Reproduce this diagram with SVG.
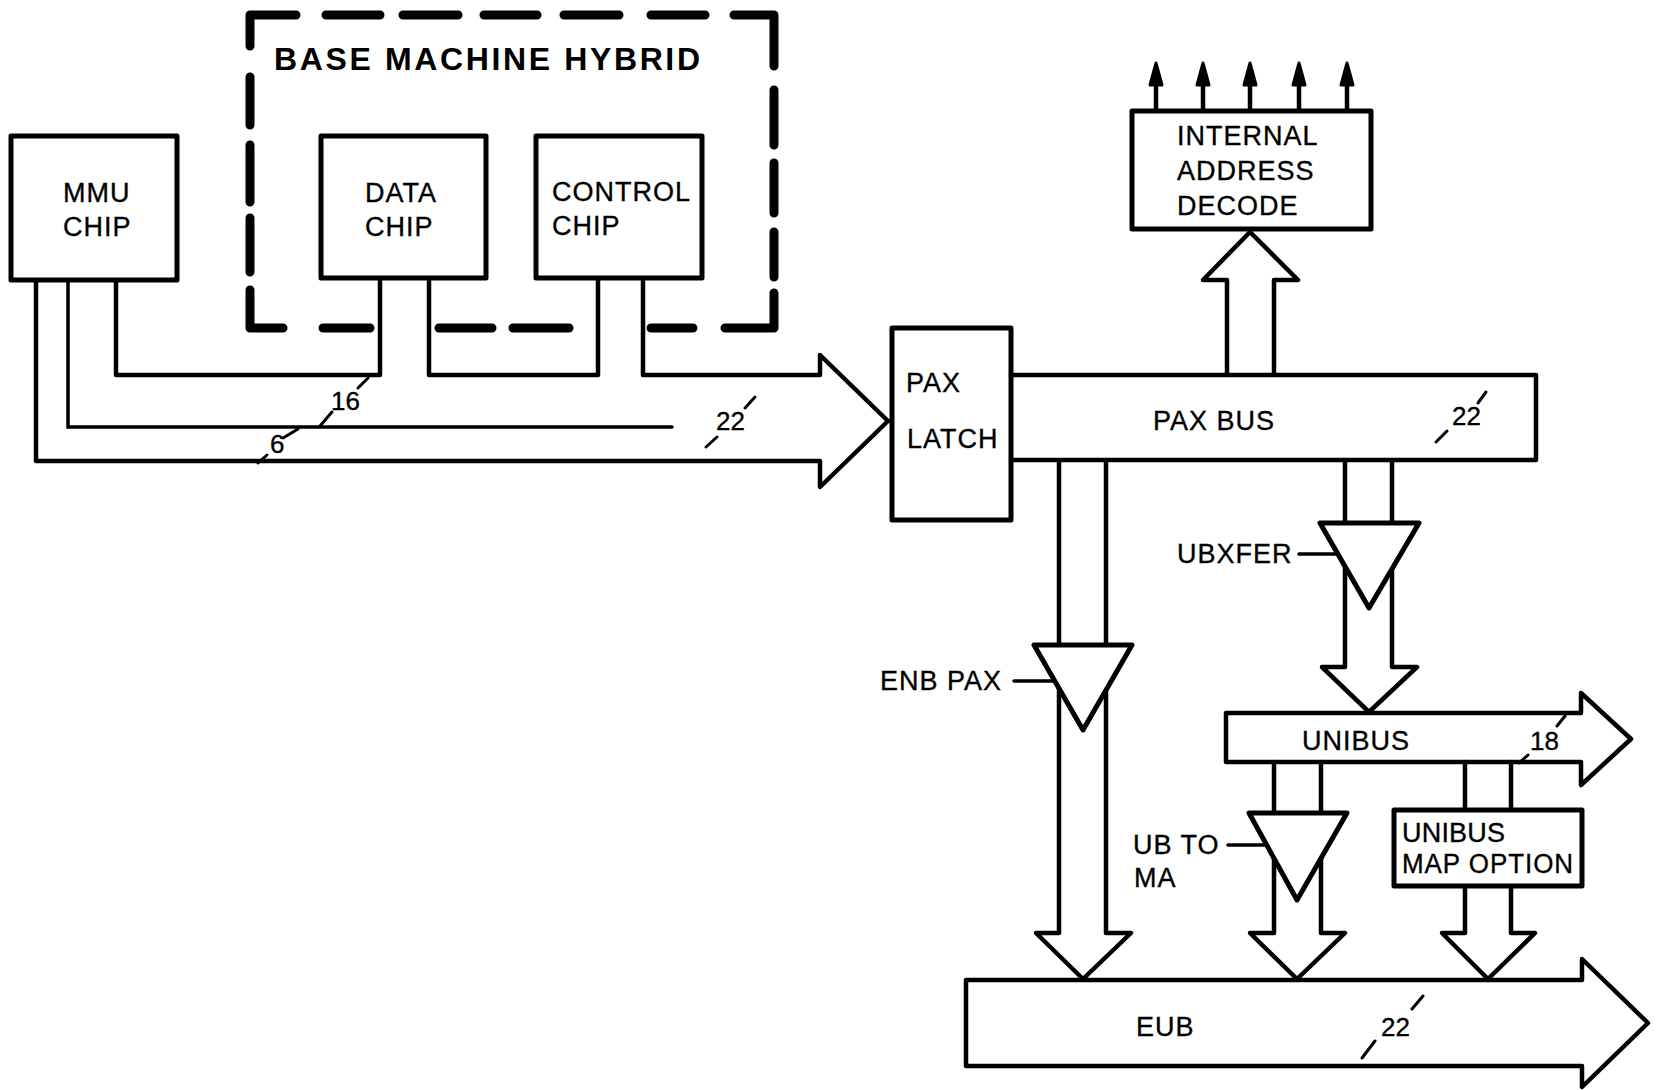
<svg xmlns="http://www.w3.org/2000/svg" width="1659" height="1090" viewBox="0 0 1659 1090">
<style>
.box{fill:#fff;stroke:#000;stroke-width:5;stroke-linejoin:round}
.ln{fill:none;stroke:#000;stroke-width:4.5;stroke-linejoin:round;stroke-linecap:round}
.thin{fill:none;stroke:#000;stroke-width:3.5;stroke-linecap:round}
.sl{fill:none;stroke:#000;stroke-width:3;stroke-linecap:round}
.buf{fill:#fff;stroke:#000;stroke-width:5;stroke-linejoin:round}
.dash{fill:none;stroke:#000;stroke-width:9;stroke-linecap:round;stroke-linejoin:round}
.t{font-family:"Liberation Sans",Arial,sans-serif;font-size:27px;letter-spacing:1px;fill:#000;stroke:#000;stroke-width:0.35}
.n{font-family:"Liberation Sans",Arial,sans-serif;font-size:26px;fill:#000;stroke:#000;stroke-width:0.35}
.title{font-family:"Liberation Sans",Arial,sans-serif;font-size:32px;font-weight:bold;fill:#000}
.tip{fill:#000;stroke:#000;stroke-width:3;stroke-linejoin:round}
</style>
<rect width="1659" height="1090" fill="#fff"/>

<g id="hybrid">
  <path class="dash" d="M250,46 V15 H296"/>
  <path class="dash" d="M326,15 H380 M403,15 H458 M484,15 H537 M564,15 H619 M651,15 H705"/>
  <path class="dash" d="M734,15 H774 V66"/>
  <path class="dash" d="M250,77 V125 M250,145 V202 M250,218 V272"/>
  <path class="dash" d="M250,290 V328 H283"/>
  <path class="dash" d="M774,90 V145 M774,163 V213 M774,232 V277"/>
  <path class="dash" d="M774,293 V328 H725"/>
  <path class="dash" d="M323,328 H370 M439,328 H492 M513,328 H569 M651,328 H693"/>
  <text class="title" x="274" y="70" textLength="426" lengthAdjust="spacing">BASE MACHINE HYBRID</text>
</g>

<g id="connectors">
  <path class="ln" d="M116,280 V375 H380 V278"/>
  <path class="ln" d="M429,278 V375 H598 V278"/>
  <path class="ln" d="M643,278 V375 H820 V355 L888,421 L820,487 V461 H36 V280"/>
  <path class="thin" d="M68,280 V427 H672"/>
  <!-- bus width marks -->
  <path class="sl" d="M368,378 L358,388 M332,412 L320,426 M298,429 L283,438 M267,455 L258,463"/>
  <text class="n" x="331" y="410">16</text>
  <text class="n" x="270" y="453">6</text>
  <path class="sl" d="M755,397 L745,408 M717,437 L706,447"/>
  <text class="n" x="716" y="430">22</text>

  <!-- PAX BUS up to decode -->
  <path class="ln" d="M1227,375 V280 H1203 L1250,232 L1298,280 H1274 V375"/>
  <!-- decode outputs -->
  <path class="ln" d="M1156,111 V80 M1203,111 V80 M1250,111 V80 M1299,111 V80 M1347,111 V80"/>
  <path class="tip" d="M1156,63 L1150,85 L1162,85 Z M1203,63 L1197,85 L1209,85 Z M1250,63 L1244,85 L1256,85 Z M1299,63 L1293,85 L1305,85 Z M1347,63 L1341,85 L1353,85 Z"/>

  <!-- ENB PAX path -->
  <path class="ln" d="M1059,461 V933 H1036 L1083,979 L1131,933 H1106 V461"/>
  <!-- UBXFER path -->
  <path class="ln" d="M1345,461 V667 H1322 L1369,712 L1417,667 H1392 V461"/>
  <!-- UB TO MA path -->
  <path class="ln" d="M1274,762 V933 H1250 L1297,979 L1345,933 H1321 V762"/>
  <!-- MAP OPTION paths -->
  <path class="ln" d="M1465,762 V810 M1511,762 V810"/>
  <path class="ln" d="M1465,886 V933 H1442 L1488,979 L1535,933 H1511 V886"/>

  <!-- label leaders -->
  <path class="thin" d="M1014,681 H1055"/>
  <path class="thin" d="M1299,554 H1338"/>
  <path class="thin" d="M1228,845 H1266"/>
</g>

<g id="mmu">
  <rect class="box" x="11" y="136" width="166" height="144"/>
  <text class="t" x="63" y="202" letter-spacing="0">MMU</text>
  <text class="t" x="63" y="236" letter-spacing="0">CHIP</text>
</g>
<g id="data">
  <rect class="box" x="321" y="136" width="165" height="142"/>
  <text class="t" x="365" y="202" letter-spacing="2.5">DATA</text>
  <text class="t" x="365" y="236" letter-spacing="0">CHIP</text>
</g>
<g id="control">
  <rect class="box" x="536" y="136" width="166" height="142"/>
  <text class="t" x="552" y="201">CONTROL</text>
  <text class="t" x="552" y="235" letter-spacing="0">CHIP</text>
</g>

<g id="paxlatch">
  <rect class="box" x="892" y="328" width="119" height="192"/>
  <text class="t" x="906" y="392" letter-spacing="0">PAX</text>
  <text class="t" x="907" y="448">LATCH</text>
</g>

<g id="paxbus">
  <path class="ln" d="M1011,375 H1536 V460 H1011"/>
  <text class="t" x="1153" y="430">PAX BUS</text>
  <text class="n" x="1452" y="425">22</text>
  <path class="sl" d="M1486,392 L1478,403 M1447,431 L1436,442"/>
</g>

<g id="decode">
  <rect class="box" x="1132" y="111" width="239" height="118"/>
  <text class="t" x="1177" y="145" letter-spacing="1.6">INTERNAL</text>
  <text class="t" x="1177" y="180" letter-spacing="0">ADDRESS</text>
  <text class="t" x="1177" y="215" letter-spacing="0">DECODE</text>
</g>

<g id="enbpax">
  <path class="buf" d="M1034,645 H1132 L1083,730 Z"/>
  <text class="t" x="880" y="690" letter-spacing="1.3">ENB PAX</text>
</g>

<g id="ubxfer">
  <path class="buf" d="M1320,523 H1419 L1369,608 Z"/>
  <text class="t" x="1177" y="563">UBXFER</text>
</g>

<g id="unibus">
  <path class="ln" d="M1226,713 H1581 V693 L1631,739 L1581,785 V762 H1226 Z"/>
  <text class="t" x="1302" y="750" letter-spacing="0.6">UNIBUS</text>
  <text class="n" x="1530" y="750">18</text>
  <path class="sl" d="M1565,716 L1557,726 M1528,755 L1519,763"/>
</g>

<g id="ubtoma">
  <path class="buf" d="M1249,813 H1347 L1297,900 Z"/>
  <text class="t" x="1133" y="854" letter-spacing="0">UB TO</text>
  <text class="t" x="1134" y="887">MA</text>
</g>

<g id="mapoption">
  <rect class="box" x="1394" y="810" width="188" height="76"/>
  <text class="t" x="1402" y="842" letter-spacing="0" textLength="104" lengthAdjust="spacing">UNIBUS</text>
  <text class="t" x="1402" y="873" letter-spacing="0" textLength="172" lengthAdjust="spacingAndGlyphs">MAP OPTION</text>
</g>

<g id="eub">
  <path class="ln" d="M966,980 H1582 V959 L1648,1023 L1582,1087 V1066 H966 Z"/>
  <text class="t" x="1136" y="1036" letter-spacing="0">EUB</text>
  <text class="n" x="1381" y="1036">22</text>
  <path class="sl" d="M1423,996 L1412,1009 M1375,1041 L1362,1058"/>
</g>
</svg>
